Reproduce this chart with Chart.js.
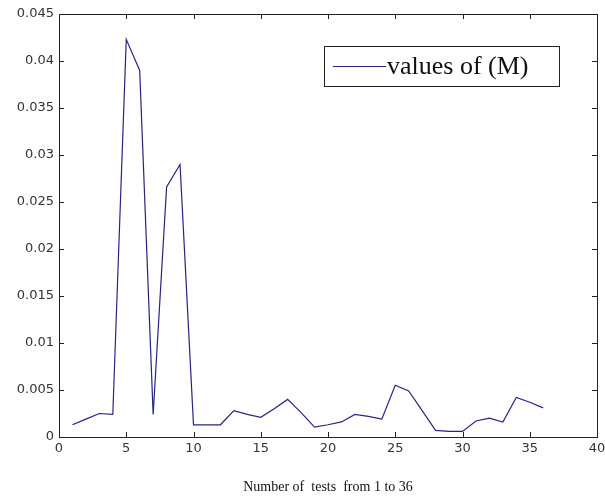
<!DOCTYPE html>
<html>
<head>
<meta charset="utf-8">
<script src="https://cdn.jsdelivr.net/npm/chart.js@4.4.0/dist/chart.umd.min.js"></script>
<style>
  html, body { margin: 0; padding: 0; background: #fff; }
  #wrap { width: 605px; height: 504px; }
</style>
</head>
<body>
<div id="wrap"><canvas id="mChart" width="605" height="504"></canvas></div>
<script>
// test numbers 1..36
const tests = [1, 2, 3, 4, 5, 6, 7, 8, 9, 10, 11, 12, 13, 14, 15, 16, 17, 18,
  19, 20, 21, 22, 23, 24, 25, 26, 27, 28, 29, 30, 31, 32, 33, 34, 35, 36];

// values of (M)
const valuesM = [0.0013, 0.0019, 0.0025, 0.0024, 0.0423, 0.039, 0.0024, 0.0266, 0.029,
  0.0013, 0.0013, 0.0013, 0.0028, 0.0024, 0.0021, 0.003, 0.004, 0.0026,
  0.00105, 0.0013, 0.0016, 0.0024, 0.0022, 0.0019, 0.0055, 0.0049, 0.0028,
  0.0007, 0.0006, 0.0006, 0.0017, 0.002, 0.0016, 0.0042, 0.0037, 0.0031];

const xTicks = [0, 5, 10, 15, 20, 25, 30, 35, 40];
const yTicks = [0, 0.005, 0.01, 0.015, 0.02, 0.025, 0.03, 0.035, 0.04, 0.045];

const lineColor = '#262680';

// matlab style box with inward ticks on all four sides, plus legend inside
const matlabBox = {
  id: 'matlabBox',
  afterDraw(chart) {
    const { ctx, chartArea: a, scales } = chart;
    const len = 5;
    ctx.save();
    ctx.strokeStyle = '#222';
    ctx.lineWidth = 1;
    ctx.strokeRect(a.left + 0.5, a.top + 0.5, a.right - a.left, a.bottom - a.top);
    ctx.beginPath();
    xTicks.forEach(v => {
      const x = Math.round(scales.x.getPixelForValue(v)) + 0.5;
      ctx.moveTo(x, a.bottom); ctx.lineTo(x, a.bottom - len);
      ctx.moveTo(x, a.top); ctx.lineTo(x, a.top + len);
    });
    yTicks.forEach(v => {
      const y = Math.round(scales.y.getPixelForValue(v)) + 0.5;
      ctx.moveTo(a.left, y); ctx.lineTo(a.left + len, y);
      ctx.moveTo(a.right, y); ctx.lineTo(a.right - len, y);
    });
    ctx.stroke();

    // legend box
    const lx = 324, ly = 46, lw = 235, lh = 40;
    ctx.fillStyle = '#fff';
    ctx.fillRect(lx, ly, lw, lh);
    ctx.strokeRect(lx + 0.5, ly + 0.5, lw, lh);
    ctx.strokeStyle = lineColor;
    ctx.lineWidth = 1.2;
    ctx.beginPath();
    ctx.moveTo(333, ly + lh / 2 + 0.5);
    ctx.lineTo(386, ly + lh / 2 + 0.5);
    ctx.stroke();
    ctx.fillStyle = '#111';
    ctx.font = '26px "Liberation Serif", "DejaVu Serif", serif';
    ctx.textBaseline = 'middle';
    ctx.fillText(chart.data.datasets[0].label, 387, ly + lh / 2 + 1);
    ctx.restore();
  }
};

const tickFont = { family: '"DejaVu Sans", sans-serif', size: 13 };

new Chart(document.getElementById('mChart'), {
  type: 'line',
  data: {
    datasets: [{
      label: 'values of (M)',
      data: tests.map((t, i) => ({ x: t, y: valuesM[i] })),
      borderColor: lineColor,
      borderWidth: 1.2,
      pointRadius: 0,
      tension: 0,
      fill: false
    }]
  },
  options: {
    responsive: false,
    animation: false,
    layout: { padding: { top: 14, right: 8, left: 0, bottom: 0 } },
    plugins: { legend: { display: false }, tooltip: { enabled: false } },
    scales: {
      x: {
        type: 'linear',
        min: 0, max: 40,
        afterBuildTicks(s) { s.ticks = xTicks.map(v => ({ value: v })); },
        afterFit(s) { s.height = 67; s.paddingLeft = 0; s.paddingRight = 0; },
        grid: { display: false, drawTicks: false, tickLength: 0 },
        border: { display: false },
        ticks: { color: '#333', font: tickFont, padding: 4, maxRotation: 0 },
        title: {
          display: true,
          text: 'Number of  tests  from 1 to 36',
          color: '#111',
          font: { family: '"Liberation Serif", "Times New Roman", serif', size: 14 },
          padding: { top: 0, bottom: 8 }
        }
      },
      y: {
        type: 'linear',
        min: 0, max: 0.045,
        afterBuildTicks(s) { s.ticks = yTicks.map(v => ({ value: v })); },
        afterFit(s) { s.width = 59; s.paddingTop = 0; s.paddingBottom = 0; },
        grid: { display: false, drawTicks: false, tickLength: 0 },
        border: { display: false },
        ticks: { color: '#333', font: tickFont, padding: 5, callback: v => String(+v.toFixed(3)) }
      }
    }
  },
  plugins: [matlabBox]
});
</script>
</body>
</html>
